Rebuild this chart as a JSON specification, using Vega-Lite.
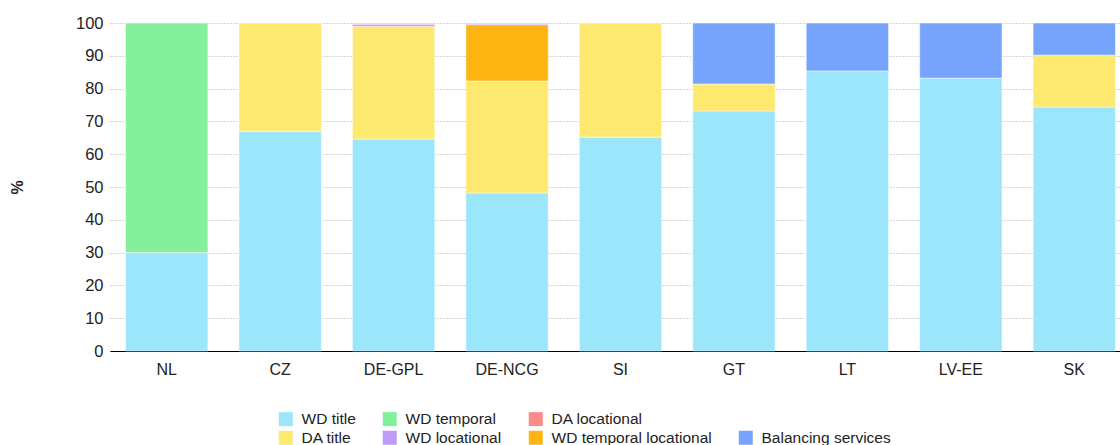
{
  "$schema": "https://vega.github.io/schema/vega-lite/v6.json",
  "autosize": {"type": "none"},
  "padding": {"left": 110, "top": 23, "right": 0, "bottom": 94},
  "width": 1021,
  "height": 328,
  "background": "white",
  "config": {
    "view": {"stroke": null},
    "font": "Liberation Sans",
    "axis": {"labelFont": "Liberation Sans", "labelColor": "#222", "titleColor": "#222"}
  },
  "data": {
    "values": [
      {"country": "NL", "type": "WD title", "value": 30},
      {"country": "NL", "type": "WD temporal", "value": 70},
      {"country": "CZ", "type": "WD title", "value": 67},
      {"country": "CZ", "type": "DA title", "value": 33},
      {"country": "DE-GPL", "type": "WD title", "value": 64.6},
      {"country": "DE-GPL", "type": "DA title", "value": 34.3},
      {"country": "DE-GPL", "type": "DA locational", "value": 0.6},
      {"country": "DE-GPL", "type": "WD locational", "value": 0.3},
      {"country": "DE-GPL", "type": "Balancing services", "value": 0.2},
      {"country": "DE-NCG", "type": "WD title", "value": 48.2},
      {"country": "DE-NCG", "type": "DA title", "value": 34.1},
      {"country": "DE-NCG", "type": "WD temporal locational", "value": 17.2},
      {"country": "DE-NCG", "type": "WD locational", "value": 0.3},
      {"country": "DE-NCG", "type": "Balancing services", "value": 0.2},
      {"country": "SI", "type": "WD title", "value": 65.2},
      {"country": "SI", "type": "DA title", "value": 34.8},
      {"country": "GT", "type": "WD title", "value": 73.2},
      {"country": "GT", "type": "DA title", "value": 8.2},
      {"country": "GT", "type": "Balancing services", "value": 18.6},
      {"country": "LT", "type": "WD title", "value": 85.4},
      {"country": "LT", "type": "Balancing services", "value": 14.6},
      {"country": "LV-EE", "type": "WD title", "value": 83.2},
      {"country": "LV-EE", "type": "Balancing services", "value": 16.8},
      {"country": "SK", "type": "WD title", "value": 74.4},
      {"country": "SK", "type": "DA title", "value": 15.8},
      {"country": "SK", "type": "Balancing services", "value": 9.8}
    ]
  },
  "transform": [
    {"calculate": "indexof(['WD title','WD temporal','DA title','DA locational','WD temporal locational','WD locational','Balancing services'], datum.type)", "as": "stackOrder"}
  ],
  "mark": {"type": "bar", "stroke": "white", "strokeWidth": 1, "strokeOpacity": 0.5},
  "encoding": {
    "x": {
      "field": "country",
      "type": "nominal",
      "sort": ["NL", "CZ", "DE-GPL", "DE-NCG", "SI", "GT", "LT", "LV-EE", "SK"],
      "scale": {"paddingInner": 0.274, "paddingOuter": 0.137},
      "axis": {
        "title": null,
        "labelAngle": 0,
        "labelFontSize": 16,
        "labelPadding": 10,
        "ticks": false,
        "domainColor": "#000",
        "domainWidth": 1.2,
        "grid": false
      }
    },
    "y": {
      "field": "value",
      "type": "quantitative",
      "stack": "zero",
      "scale": {"domain": [0, 100], "nice": false},
      "axis": {
        "title": "%",
        "titleFontSize": 16,
        "titleFontWeight": "bold",
        "titlePadding": 50,
        "values": [0, 10, 20, 30, 40, 50, 60, 70, 80, 90, 100],
        "labelFontSize": 16.5,
        "labelPadding": 7,
        "ticks": false,
        "domain": false,
        "grid": true,
        "gridColor": "#aaaaaa",
        "gridDash": [1, 2],
        "gridWidth": 1
      }
    },
    "color": {
      "field": "type",
      "type": "nominal",
      "scale": {
        "domain": ["WD title", "WD temporal", "DA locational", " ", "DA title", "WD locational", "WD temporal locational", "Balancing services"],
        "range": ["#9ce6fc", "#85f09c", "#fb8b8b", "#ffffff", "#fde870", "#bd9bf7", "#feb514", "#76a4fd"]
      },
      "legend": {
        "title": null,
        "orient": "none",
        "legendX": 168,
        "legendY": 388,
        "columns": 4,
        "direction": "horizontal",
        "symbolType": "square",
        "symbolSize": 196,
        "symbolStrokeWidth": 0,
        "labelFontSize": 15.5,
        "labelLimit": 400,
        "labelOffset": 8,
        "columnPadding": 26,
        "rowPadding": 2,
        "labelColor": "#222",
        "padding": 0
      }
    },
    "order": {"field": "stackOrder", "type": "quantitative"}
  }
}
